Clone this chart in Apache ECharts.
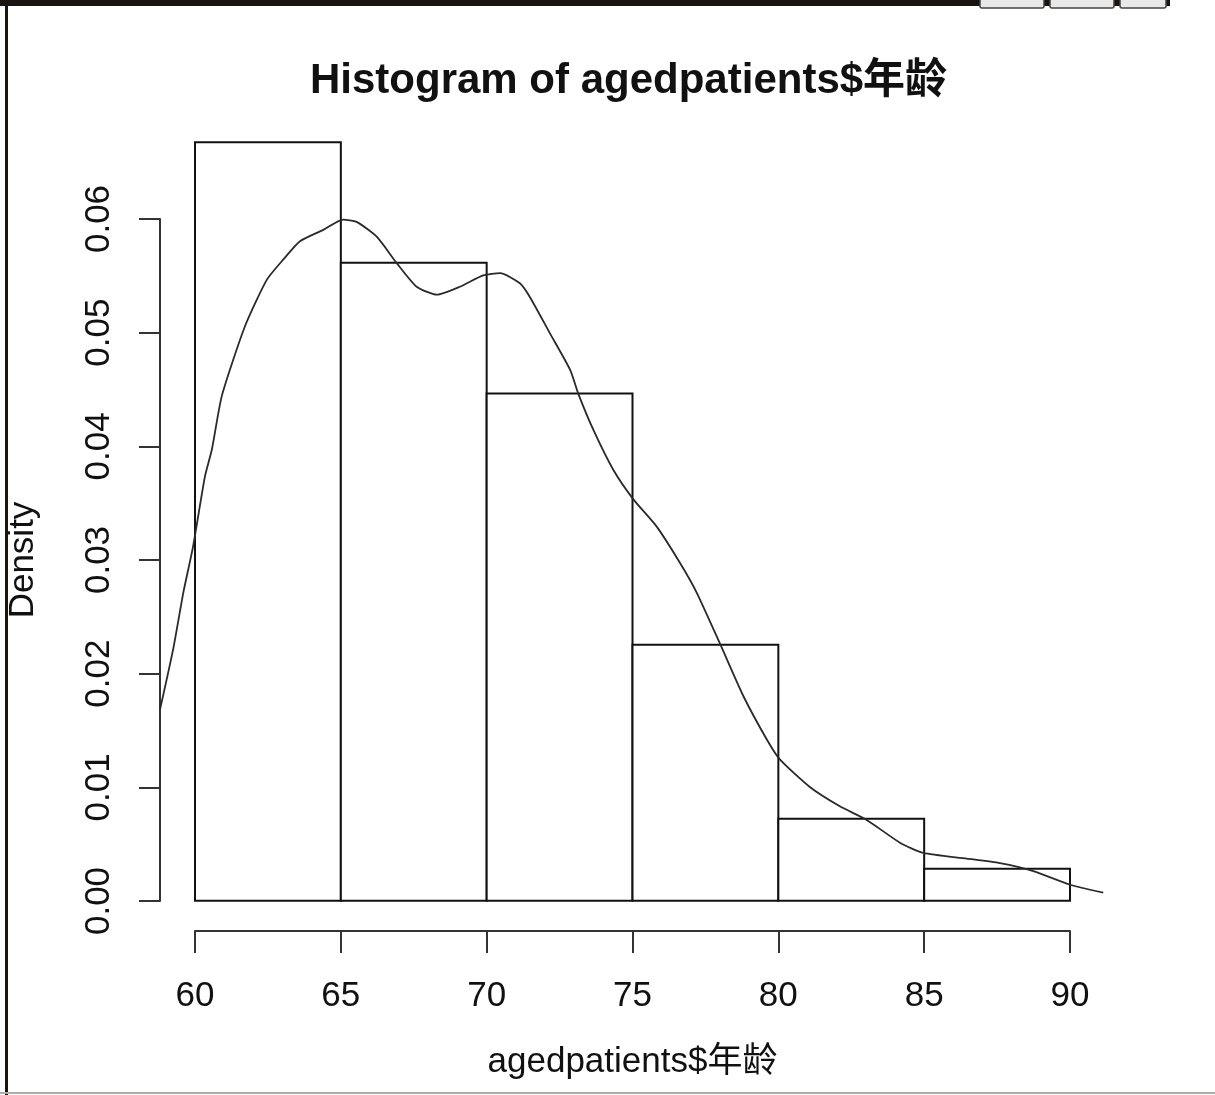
<!DOCTYPE html>
<html>
<head>
<meta charset="utf-8">
<script src="https://cdn.jsdelivr.net/npm/echarts@6/dist/echarts.min.js"></script>
<style>
html,body{margin:0;padding:0;background:#fff;}
#main{width:1215px;height:1095px;}
</style>
</head>
<body>
<div id="main"></div>
<script>
// Histogram bins (age) and densities
const breaks = [60, 65, 70, 75, 80, 85, 90];
const density = [0.0667, 0.0561, 0.0446, 0.0225, 0.0072, 0.0028];
// Kernel density estimate curve
const kdeX = [58.8, 59.25, 59.6, 59.93, 60.34, 60.58, 60.92, 61.71, 62.46, 63.03, 63.6, 64.4, 65.08, 65.54, 66.23, 66.91, 67.6, 68.29, 69.08, 69.88, 70.46, 71.14, 71.48, 72.17, 72.86, 73.14, 73.66, 74.34, 75.03, 75.83, 76.63, 77.2, 78.0, 78.8, 79.6, 80.06, 81.08, 82.11, 83.03, 84.17, 84.97, 86.46, 87.6, 88.74, 90.0, 91.14];
const kdeY = [0.0168, 0.0221, 0.0271, 0.0311, 0.0373, 0.0397, 0.0444, 0.0505, 0.0546, 0.0564, 0.0580, 0.0590, 0.0599, 0.0597, 0.0584, 0.0561, 0.0540, 0.0533, 0.0540, 0.0550, 0.0552, 0.0543, 0.0531, 0.0499, 0.0467, 0.0446, 0.0414, 0.0379, 0.0353, 0.0329, 0.0297, 0.0271, 0.0226, 0.0180, 0.0142, 0.0124, 0.0100, 0.0083, 0.0071, 0.0051, 0.0042, 0.0037, 0.0033, 0.0026, 0.0014, 0.0007];
const xTicks = [60, 65, 70, 75, 80, 85, 90];
const yTicks = [0, 0.01, 0.02, 0.03, 0.04, 0.05, 0.06];
const titleText = 'Histogram of agedpatients$年龄';
const xName = 'agedpatients$年龄';
const yName = 'Density';

const FONT = "'Liberation Sans', Arial, 'Noto Sans CJK SC', sans-serif";
const chart = echarts.init(document.getElementById('main'), null, {renderer: 'canvas'});

const barData = density.map((d, i) => [breaks[i], breaks[i + 1], d]);
const lineData = kdeX.map((x, i) => [x, kdeY[i]]);
// plot region (R "usr") extends 4% beyond the data ranges
const xMin = 58.8, xMax = 91.2;
const yMin = -0.002668, yMax = 0.069368;

const option = {
  animation: false,
  backgroundColor: '#ffffff',
  title: {
    text: titleText,
    left: 310,
    top: 60,
    padding: 0,
    textStyle: {fontFamily: FONT, fontWeight: 'bold', fontSize: 42, color: '#111'}
  },
  grid: [
    {left: 160, right: 110, top: 112, bottom: 164, containLabel: false, outerBoundsMode: 'none'},
    {left: 195, right: 145, top: 219, bottom: 194, containLabel: false, outerBoundsMode: 'none'}
  ],
  xAxis: [
    {gridIndex: 0, type: 'value', min: xMin, max: xMax, show: false},
    {
      gridIndex: 1,
      type: 'value',
      min: 60, max: 90, interval: 5,
      position: 'bottom',
      offset: 30,
      splitLine: {show: false},
      axisLine: {show: true, onZero: false, lineStyle: {color: '#333', width: 2}},
      axisTick: {show: true, length: 22, lineStyle: {color: '#333', width: 2}, customValues: xTicks},
      axisLabel: {fontFamily: FONT, fontSize: 35, color: '#111', margin: 48, customValues: xTicks},
      name: xName,
      nameLocation: 'middle',
      nameGap: 114,
      nameTextStyle: {fontFamily: FONT, fontSize: 35, color: '#111'}
    }
  ],
  yAxis: [
    {gridIndex: 0, type: 'value', min: yMin, max: yMax, show: false},
    {
      gridIndex: 1,
      type: 'value',
      min: 0, max: 0.06, interval: 0.01,
      position: 'left',
      offset: 35,
      splitLine: {show: false},
      axisLine: {show: true, onZero: false, lineStyle: {color: '#333', width: 2}},
      axisTick: {show: true, length: 21, lineStyle: {color: '#333', width: 2}, customValues: yTicks},
      axisLabel: {fontFamily: FONT, fontSize: 35, color: '#111', margin: 43, rotate: 90,
        customValues: yTicks, formatter: v => v.toFixed(2)},
      name: yName,
      nameLocation: 'middle',
      nameRotate: 90,
      nameGap: 119,
      nameTextStyle: {fontFamily: FONT, fontSize: 35, color: '#111'}
    }
  ],
  series: [
    {
      type: 'custom',
      xAxisIndex: 0, yAxisIndex: 0,
      clip: false,
      data: barData,
      encode: {x: [0, 1], y: 2},
      renderItem: function (params, api) {
        const p0 = api.coord([api.value(0), 0]);
        const p1 = api.coord([api.value(1), api.value(2)]);
        return {
          type: 'rect',
          shape: {x: p0[0], y: p1[1], width: p1[0] - p0[0], height: p0[1] - p1[1]},
          style: {fill: '#ffffff', stroke: '#111', lineWidth: 2}
        };
      },
      z: 2
    },
    {
      type: 'line',
      xAxisIndex: 0, yAxisIndex: 0,
      data: lineData,
      clip: false,
      showSymbol: false,
      smooth: 0.2,
      lineStyle: {color: '#2a2a2a', width: 1.8},
      z: 3
    }
  ],
  graphic: [
    {type: 'rect', z: 100, shape: {x: 0, y: 0, width: 5, height: 1095}, style: {fill: '#fff'}},
    {type: 'rect', z: 101, shape: {x: 5, y: 0, width: 3, height: 1095}, style: {fill: '#1a1410'}},
    {type: 'rect', z: 101, shape: {x: 0, y: 0, width: 1170, height: 6}, style: {fill: '#1a1410'}},
    {type: 'rect', z: 102, shape: {x: 980, y: -4, width: 64, height: 12, r: 2}, style: {fill: '#e8e8e8', stroke: '#444', lineWidth: 1.5}},
    {type: 'rect', z: 102, shape: {x: 1050, y: -4, width: 64, height: 12, r: 2}, style: {fill: '#e8e8e8', stroke: '#444', lineWidth: 1.5}},
    {type: 'rect', z: 102, shape: {x: 1120, y: -4, width: 46, height: 12, r: 2}, style: {fill: '#e8e8e8', stroke: '#444', lineWidth: 1.5}},
    {type: 'rect', z: 101, shape: {x: 0, y: 1092, width: 1215, height: 2}, style: {fill: '#b0aca8'}}
  ]
};
chart.setOption(option);
</script>
</body>
</html>
